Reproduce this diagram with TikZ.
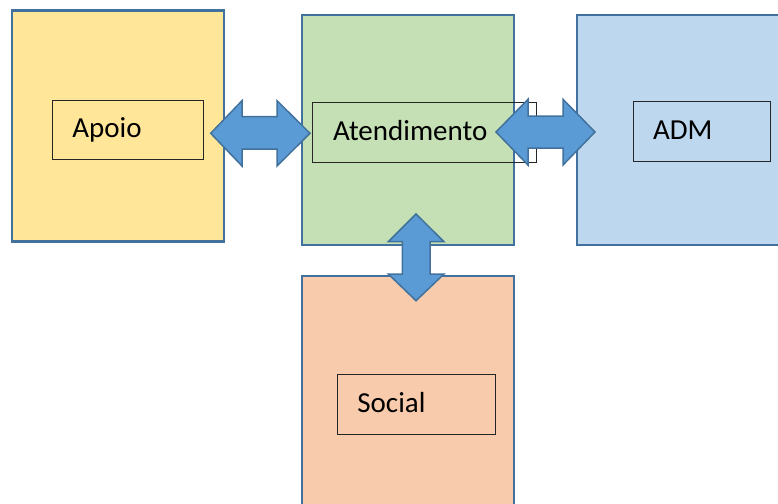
\documentclass[tikz,border=0pt]{standalone}
\usepackage{fontspec}
\setmainfont{Carlito}
\definecolor{bordc}{HTML}{41719C}
\definecolor{yel}{HTML}{FFE699}
\definecolor{grn}{HTML}{C5E0B4}
\definecolor{blu}{HTML}{BDD7EE}
\definecolor{sal}{HTML}{F8CBAD}
\definecolor{arr}{HTML}{5B9BD5}
\begin{document}
\begin{tikzpicture}[x=1pt,y=-1pt,
  bigbox/.style={draw=bordc,line width=2.4pt},
  labbox/.style={draw=black!85,line width=0.9pt},
  blockarrow/.style={fill=arr,draw=bordc,line width=1.5pt,line join=miter},
  lab/.style={anchor=base west,inner sep=0pt,font=\fontsize{29}{35}\selectfont}]
\useasboundingbox (0,0) rectangle (778,503);
% big boxes
\draw[bigbox,fill=yel] (12,10.7) rectangle (224,241.3);
\draw[bigbox,fill=grn] (302,15) rectangle (514,245);
\draw[bigbox,fill=blu] (576.7,15) rectangle (800,245);
\draw[bigbox,fill=sal] (302,275.7) rectangle (514,520);
% label boxes
\draw[labbox] (52.7,100) rectangle (203.3,159.3);
\draw[labbox] (312.7,102.7) rectangle (536,162.3);
\draw[labbox] (633.3,101.7) rectangle (770.7,161);
\draw[labbox] (337.7,374.3) rectangle (495,434.3);
\node[lab] (apoio) at (72.2,137.2) {Apoio};
\node[lab] (atend) at (332.8,140.5) {Atendimento};
\node[lab] (adm) at (652.8,139.8) {ADM};
\node[lab] (social) at (357.2,412.2) {Social};
% block arrows
\draw[blockarrow] (210.7,133.3) -- (242,100.7) -- (242,116.7) -- (277,116.7) -- (277,100.7)
  -- (310,133.3) -- (277,166) -- (277,149) -- (242,149) -- (242,166) -- cycle;
\draw[blockarrow] (496,132) -- (528,99.3) -- (528,116) -- (563,116) -- (563,99.3)
  -- (595,132) -- (563,165) -- (563,148) -- (528,148) -- (528,165) -- cycle;
\draw[blockarrow] (416,214) -- (444,241.7) -- (430,241.7) -- (430,274) -- (444,274)
  -- (416,300.7) -- (388.3,274) -- (402.3,274) -- (402.3,241.7) -- (388.3,241.7) -- cycle;
\end{tikzpicture}
\end{document}
